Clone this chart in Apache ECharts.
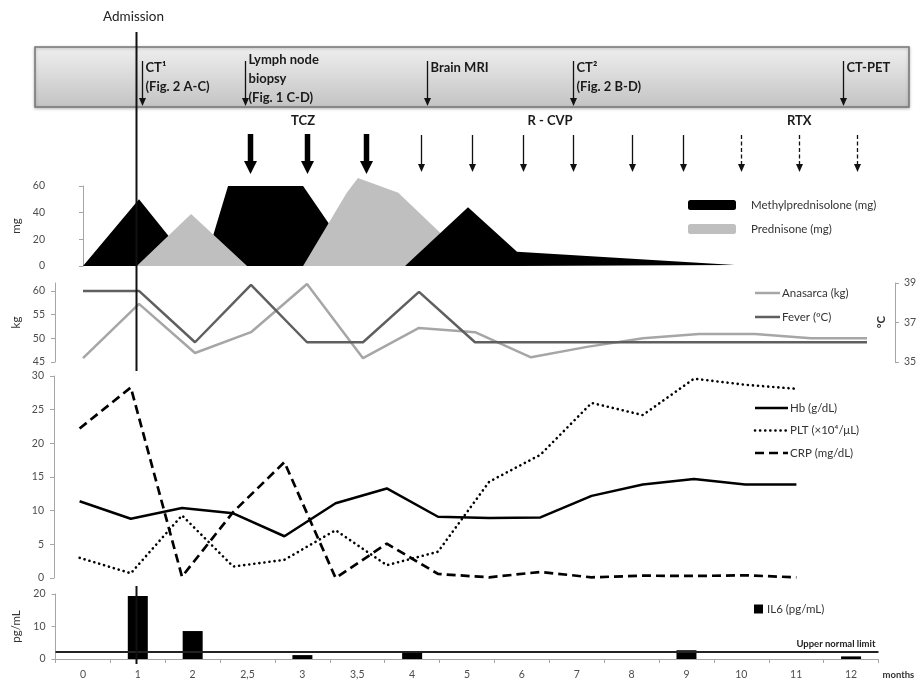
<!DOCTYPE html>
<html>
<head>
<meta charset="utf-8">
<script src="https://cdn.jsdelivr.net/npm/echarts@6/dist/echarts.min.js"></script>
<style>
  html, body { margin: 0; padding: 0; background: #ffffff; }
  #chart { width: 916px; height: 684px; }
</style>
</head>
<body>
<div id="chart"></div>
<script>
// ---- Timeline categories (months from onset) ----
const months = ['0', '1', '2', '2,5', '3', '3,5', '4', '5', '6', '7', '8', '9', '10', '11', '12'];

// ---- Steroid doses: [timeline position (visit index), mg] ----
const methylpredFirst = [[0, 0], [1, 50], [1.96, 0], [2.16, 0], [2.59, 60], [3.93, 60], [4.91, 0]];
const prednisoneDose = [[0.96, 0], [1.93, 39], [2.93, 0], [3.93, 0], [4.71, 55], [4.91, 66], [5.63, 55], [7.0, 0]];
const methylpredSecond = [[5.75, 0], [6.875, 44], [7.75, 10.7], [11.64, 0.8], [11.64, 0]];

// ---- Body weight (kg) and temperature (°C) per visit ----
const anasarcaKg = [45.8, 57.3, 46.9, 51.3, 61.5, 45.8, 52.2, 51.3, 46.0, 48.2, 50.0, 50.9, 50.9, 50.0, 50.0];
const feverC = [38.6, 38.6, 36.0, 38.9, 36.0, 36.0, 38.55, 36.0, 36.0, 36.0, 36.0, 36.0, 36.0, 36.0, 36.0];

// ---- Laboratory values per visit ----
const hb = [11.4, 8.8, 10.4, 9.6, 6.2, 11.1, 13.3, 9.1, 8.9, 9.0, 12.2, 13.9, 14.7, 13.9, 13.9];
const plt = [3.0, 0.7, 9.3, 1.7, 2.7, 7.1, 1.9, 3.9, 14.3, 18.3, 26.0, 24.2, 29.6, 28.7, 28.1];
const crp = [22.2, 28.3, 0.2, 9.8, 17.2, 0.0, 5.1, 0.6, 0.1, 0.9, 0.1, 0.35, 0.3, 0.4, 0.1];

// ---- Interleukin-6 (pg/mL) ----
const il6 = [null, 19.4, 8.6, null, 1.2, null, 2.4, null, null, null, null, 2.7, null, null, 0.8];
const il6UpperLimit = 2.2;

// ---- Clinical events (timeline position, caption lines) ----
const admissionAt = 0.95;
const eventPos = [1.05, 2.89, 6.14, 8.75, 13.57];
const eventText = [
  ['CT\u00b9', '(Fig. 2 A-C)'],
  ['Lymph node', 'biopsy', '(Fig. 1 C-D)'],
  ['Brain MRI'],
  ['CT\u00b2', '(Fig. 2 B-D)'],
  ['CT-PET']
];

// ---- Treatments: administrations and group labels ----
const tczDoses = [2.98, 4.0, 5.05];
const rcvpCycles = [6.04, 6.95, 7.86, 8.75, 9.8, 10.71];
const rtxSessions = [11.75, 12.79, 13.82];
const therapyNames = ['TCZ', 'R - CVP', 'RTX'];
const therapyLabelPos = [3.93, 8.34, 12.79];

// ---- Series names shown in the line legends ----
const vitalNames = ['Anasarca (kg)', 'Fever (\u00baC)'];
const labNames = ['Hb (g/dL)', 'PLT (\u00d710\u2074/\u03bcL)', 'CRP (mg/dL)'];

const FONT = 'Lato, "Noto Sans", sans-serif';
const AXIS_GREY = '#a6a6a6';
const LABEL = { fontSize: 10.5, color: '#4d4d4d', fontFamily: FONT };
const LEGEND_TEXT = { fontSize: 11.5, color: '#333', fontFamily: FONT };

const vitalStyles = [
  { color: '#a6a6a6', width: 2.5 },
  { color: '#5f5f5f', width: 2.5 }
];
const labStyles = [
  { color: '#000', width: 2.5 },
  { color: '#000', width: 2.6, type: [0.1, 5], cap: 'round' },
  { color: '#000', width: 2.7, type: [9, 5] }
];

function leftValueAxis(gridIndex, extra) {
  return Object.assign({
    type: 'value', gridIndex: gridIndex,
    axisLine: { show: true, lineStyle: { color: AXIS_GREY, width: 1 } },
    axisTick: { show: true, inside: false, length: 4, lineStyle: { color: AXIS_GREY } },
    axisLabel: Object.assign({ margin: 10 }, LABEL),
    splitLine: { show: false },
    nameLocation: 'middle', nameRotate: 90,
    nameTextStyle: { fontSize: 11.5, color: '#333', fontFamily: FONT }
  }, extra);
}

const hiddenCat = (g) => ({ type: 'category', gridIndex: g, data: months, boundaryGap: true, show: false });
const hiddenVal = (g) => ({ type: 'value', gridIndex: g, min: -0.5, max: 14.5, show: false });

// Legend rows for line series, drawn as sample stroke + caption
function lineLegend(names, styles, x0, lineLen, y0, step) {
  const out = [];
  names.forEach(function (n, i) {
    const s = styles[i];
    const y = y0 + i * step;
    out.push({
      type: 'line', z: 5,
      shape: { x1: x0, y1: y, x2: x0 + lineLen, y2: y },
      style: {
        stroke: s.color, lineWidth: s.width,
        lineDash: Array.isArray(s.type) ? s.type : null,
        lineCap: s.cap || 'butt'
      }
    });
    out.push({
      type: 'text', z: 5,
      style: Object.assign({ text: n, x: x0 + lineLen + 2, y: y, verticalAlign: 'middle', fill: '#333' }, LEGEND_TEXT)
    });
  });
  return out;
}

const chart = echarts.init(document.getElementById('chart'), null, { renderer: 'canvas' });

const option = {
  animation: false,
  backgroundColor: '#ffffff',
  textStyle: { fontFamily: FONT },
  graphic: [{
    type: 'rect', z: 0,
    shape: { x: 35, y: 47, width: 874, height: 60 },
    style: {
      fill: new echarts.graphic.LinearGradient(0, 0, 0, 1, [
        { offset: 0, color: '#efefef' }, { offset: 1, color: '#c3c3c3' }
      ]),
      stroke: '#767676', lineWidth: 1.5,
      shadowBlur: 3, shadowColor: 'rgba(0,0,0,0.25)', shadowOffsetY: 1
    }
  }, {
    type: 'text', z: 5, x: 881, y: 322, rotation: Math.PI / 2,
    style: { text: '\u00b0C', align: 'center', verticalAlign: 'middle', fontSize: 11.5, fontWeight: 'bold', fontFamily: FONT, fill: '#333' }
  }]
    .concat(lineLegend(vitalNames, vitalStyles, 755, 25, 293, 24))
    .concat(lineLegend(labNames, labStyles, 755, 33, 408, 22.5)),
  grid: [
    { left: 55, width: 840, top: 186, height: 80, outerBoundsMode: 'none' },     // steroids
    { left: 55, width: 840, top: 283, height: 79, outerBoundsMode: 'none' },     // weight / temperature
    { left: 54, width: 768, top: 376, height: 202, outerBoundsMode: 'none' },    // laboratory
    { left: 55.5, width: 823, top: 594, height: 65, outerBoundsMode: 'none' },   // IL6
    { left: 55, width: 840, top: 0, height: 684, outerBoundsMode: 'none' }       // timeline annotations
  ],
  xAxis: [
    hiddenVal(0),
    hiddenCat(1),
    hiddenCat(2),
    {
      type: 'category', gridIndex: 3, data: months, boundaryGap: true,
      axisLine: { show: true, lineStyle: { color: AXIS_GREY } },
      axisTick: { show: true, interval: 0, length: 4, lineStyle: { color: AXIS_GREY } },
      axisLabel: Object.assign({ interval: 0, margin: 10 }, LABEL),
      name: 'months', nameLocation: 'end', nameGap: 4,
      nameTextStyle: { fontSize: 9.5, fontWeight: 'bold', color: '#333', verticalAlign: 'top', padding: [11, 0, 0, 0], fontFamily: FONT }
    },
    hiddenVal(4)
  ],
  yAxis: [
    leftValueAxis(0, { min: 0, max: 60, interval: 20, name: 'mg', nameGap: 31 }),
    leftValueAxis(1, {
      min: 45, max: 61.7, interval: 5, name: 'kg', nameGap: 31,
      axisLabel: Object.assign({ margin: 10, customValues: [45, 50, 55, 60] }, LABEL),
      axisTick: { show: true, length: 4, customValues: [45, 50, 55, 60], lineStyle: { color: AXIS_GREY } }
    }),
    {
      type: 'value', gridIndex: 1, position: 'right', min: 35, max: 39,
      axisLine: { show: true, lineStyle: { color: AXIS_GREY } },
      axisTick: { show: true, length: 4, customValues: [35, 37, 39], lineStyle: { color: AXIS_GREY } },
      axisLabel: Object.assign({ margin: 9, customValues: [35, 37, 39] }, LABEL),
      splitLine: { show: false }
    },
    leftValueAxis(2, { min: 0, max: 30, interval: 5 }),
    leftValueAxis(3, { min: 0, max: 20, interval: 10, name: 'pg/mL', nameGap: 32 }),
    { type: 'value', gridIndex: 4, min: 0, max: 1, show: false }
  ],
  legend: [
    {
      data: ['Methylprednisolone (mg)', 'Prednisone (mg)'],
      orient: 'vertical', left: 688, top: 199, padding: 0, itemWidth: 48, itemHeight: 10, itemGap: 12,
      icon: 'roundRect', selectedMode: false,
      textStyle: Object.assign({ padding: [0, 0, 0, 10] }, LEGEND_TEXT)
    },
    {
      data: ['IL6 (pg/mL)'],
      left: 754, top: 603, padding: 0, itemWidth: 9, itemHeight: 9, icon: 'rect',
      selectedMode: false,
      textStyle: Object.assign({ padding: [0, 0, 0, -1] }, LEGEND_TEXT)
    }
  ],
  series: [
    // steroid areas
    {
      name: 'Methylprednisolone (mg)', type: 'line', xAxisIndex: 0, yAxisIndex: 0, z: 2, clip: false,
      data: methylpredFirst, symbol: 'none', lineStyle: { width: 0 },
      itemStyle: { color: '#000000' }, areaStyle: { color: '#000000', opacity: 1 }
    },
    {
      name: 'Prednisone (mg)', type: 'line', xAxisIndex: 0, yAxisIndex: 0, z: 3, clip: false,
      data: prednisoneDose, symbol: 'none', lineStyle: { width: 0 },
      itemStyle: { color: '#bfbfbf' }, areaStyle: { color: '#bfbfbf', opacity: 1 }
    },
    {
      name: 'Methylprednisolone (mg)', type: 'line', xAxisIndex: 0, yAxisIndex: 0, z: 4, clip: false,
      data: methylpredSecond, symbol: 'none', lineStyle: { width: 0 },
      itemStyle: { color: '#000000' }, areaStyle: { color: '#000000', opacity: 1 }
    },
    // weight / fever
    {
      name: vitalNames[0], type: 'line', xAxisIndex: 1, yAxisIndex: 1, clip: false,
      data: anasarcaKg, symbol: 'none', color: vitalStyles[0].color,
      lineStyle: vitalStyles[0]
    },
    {
      name: vitalNames[1], type: 'line', xAxisIndex: 1, yAxisIndex: 2, clip: false,
      data: feverC, symbol: 'none', color: vitalStyles[1].color,
      lineStyle: vitalStyles[1]
    },
    // laboratory
    {
      name: labNames[0], type: 'line', xAxisIndex: 2, yAxisIndex: 3,
      data: hb, symbol: 'none', color: '#000', lineStyle: labStyles[0]
    },
    {
      name: labNames[1], type: 'line', xAxisIndex: 2, yAxisIndex: 3,
      data: plt, symbol: 'none', color: '#000', lineStyle: labStyles[1]
    },
    {
      name: labNames[2], type: 'line', xAxisIndex: 2, yAxisIndex: 3,
      data: crp, symbol: 'none', color: '#000', lineStyle: labStyles[2]
    },
    // IL6
    {
      name: 'IL6 (pg/mL)', type: 'bar', xAxisIndex: 3, yAxisIndex: 4,
      data: il6, barWidth: 20, itemStyle: { color: '#000' }, color: '#000',
      markLine: {
        silent: true, symbol: 'none', animation: false,
        lineStyle: { color: '#222', width: 2, type: 'solid' },
        label: {
          show: true, position: 'insideEndTop', formatter: 'Upper normal limit',
          fontSize: 9.5, fontWeight: 'bold', color: '#222', distance: 3, fontFamily: FONT
        },
        data: [{ yAxis: il6UpperLimit }]
      }
    },
    // admission marker
    {
      type: 'custom', xAxisIndex: 4, yAxisIndex: 5, z: 10,
      data: [[admissionAt]],
      renderItem: function (params, api) {
        const x = Math.round(api.coord([api.value(0), 0])[0]) + 0.5;
        return {
          type: 'group', children: [
            { type: 'line', shape: { x1: x, y1: 32, x2: x, y2: 371 }, style: { stroke: '#111', lineWidth: 2 } },
            { type: 'line', shape: { x1: x, y1: 586, x2: x, y2: 664 }, style: { stroke: '#111', lineWidth: 2 } },
            { type: 'text', style: { text: 'Admission', x: x - 3, y: 17, align: 'center', verticalAlign: 'middle', fontSize: 13.5, fontFamily: FONT, fill: '#222' } }
          ]
        };
      }
    },
    // diagnostic events inside the timeline box
    {
      type: 'custom', xAxisIndex: 4, yAxisIndex: 5, z: 9,
      data: eventPos.map((p, i) => [p, i]),
      renderItem: function (params, api) {
        const x = Math.round(api.coord([api.value(0), 0])[0]) + 0.5;
        const lines = eventText[api.value(1)];
        const top = lines.length > 2 ? 53 : 61;
        const children = [
          { type: 'line', shape: { x1: x, y1: 61, x2: x, y2: 99 }, style: { stroke: '#111', lineWidth: 1.3 } },
          { type: 'polygon', shape: { points: [[x - 3.5, 98], [x + 3.5, 98], [x, 106]] }, style: { fill: '#111' } }
        ];
        lines.forEach(function (t, k) {
          children.push({
            type: 'text',
            style: { text: t, x: x + 3, y: top + k * 19, verticalAlign: 'top', fontSize: 13, fontWeight: 'bold', fontFamily: FONT, fill: '#1a1a1a' }
          });
        });
        return { type: 'group', children: children };
      }
    },
    // treatment administrations
    {
      type: 'custom', xAxisIndex: 4, yAxisIndex: 5, z: 9,
      data: tczDoses.map(p => [p, 0]).concat(rcvpCycles.map(p => [p, 1])).concat(rtxSessions.map(p => [p, 2])),
      renderItem: function (params, api) {
        const x = Math.round(api.coord([api.value(0), 0])[0]) + 0.5;
        const kind = api.value(1);
        if (kind === 0) {
          return {
            type: 'group', children: [
              { type: 'rect', shape: { x: x - 2.75, y: 134, width: 5.5, height: 28 }, style: { fill: '#000' } },
              { type: 'polygon', shape: { points: [[x - 6.5, 161], [x + 6.5, 161], [x, 174]] }, style: { fill: '#000' } }
            ]
          };
        }
        return {
          type: 'group', children: [
            { type: 'line', shape: { x1: x, y1: 135, x2: x, y2: 165 }, style: { stroke: '#111', lineWidth: 1.3, lineDash: kind === 2 ? [4, 2.5] : null } },
            { type: 'polygon', shape: { points: [[x - 3.5, 164], [x + 3.5, 164], [x, 172]] }, style: { fill: '#111' } }
          ]
        };
      }
    },
    // treatment names
    {
      type: 'custom', xAxisIndex: 4, yAxisIndex: 5, z: 9,
      data: therapyLabelPos.map((p, i) => [p, i]),
      renderItem: function (params, api) {
        const x = api.coord([api.value(0), 0])[0];
        return {
          type: 'text',
          style: { text: therapyNames[api.value(1)], x: x, y: 121, align: 'center', verticalAlign: 'middle', fontSize: 13, fontWeight: 'bold', fontFamily: FONT, fill: '#1a1a1a' }
        };
      }
    }
  ]
};

chart.setOption(option);
</script>
</body>
</html>
